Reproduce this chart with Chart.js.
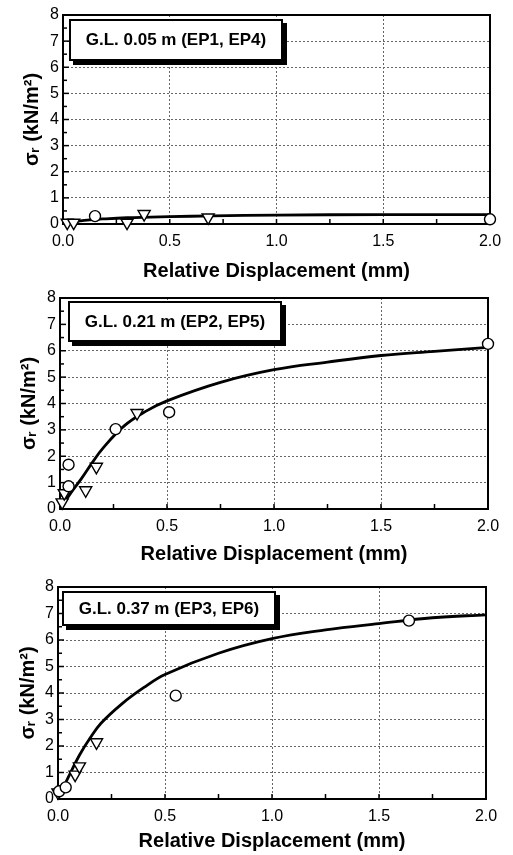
<!DOCTYPE html>
<html>
<head>
<meta charset="utf-8">
<script src="https://cdn.jsdelivr.net/npm/chart.js@4/dist/chart.umd.min.js"></script>
<style>
  body { margin: 0; background: #fff; width: 513px; height: 855px; overflow: hidden; position: relative; font-family: "Liberation Sans", Arial, sans-serif; }
  .panel { position: absolute; left: 0; width: 513px; }
  .tag { position: absolute; box-sizing: border-box; border: 2px solid #000; background: #fff; box-shadow: 4px 4px 0 #000;
         font-weight: bold; font-size: 17px; color: #000; display: flex; align-items: center; justify-content: center; }
</style>
</head>
<body>
<div class="panel" style="top:0;height:285px"><canvas id="c1"></canvas></div>
<div class="panel" style="top:283px;height:285px"><canvas id="c2"></canvas></div>
<div class="panel" style="top:572px;height:283px"><canvas id="c3"></canvas></div>
<div class="tag" style="left:69px;top:19px;width:214px;height:42px">G.L. 0.05 m (EP1, EP4)</div>
<div class="tag" style="left:68px;top:301px;width:214px;height:41px">G.L. 0.21 m (EP2, EP5)</div>
<div class="tag" style="left:62px;top:591px;width:214px;height:35px">G.L. 0.37 m (EP3, EP6)</div>
<script>
// axis ticks
const xTicks = [0, 0.5, 1.0, 1.5, 2.0];
const yTicks = [0, 1, 2, 3, 4, 5, 6, 7, 8];

// G.L. 0.05 m (EP1, EP4)
const gl05CircleX = [0.15, 2.0];
const gl05CircleY = [0.3, 0.18];
const gl05TriX = [0.02, 0.05, 0.30, 0.38, 0.68];
const gl05TriY = [0.05, 0.05, 0.05, 0.38, 0.25];
const gl05CurveX = [0, 0.05, 0.1, 0.2, 0.3, 0.5, 0.7, 1.0, 1.5, 2.0];
const gl05CurveY = [0, 0.08, 0.14, 0.2, 0.24, 0.28, 0.31, 0.34, 0.36, 0.36];

// G.L. 0.21 m (EP2, EP5)
const gl21CircleX = [0.04, 0.04, 0.26, 0.51, 2.0];
const gl21CircleY = [1.68, 0.86, 3.03, 3.67, 6.26];
const gl21TriX = [0.01, 0.02, 0.12, 0.17, 0.36];
const gl21TriY = [0.25, 0.6, 0.71, 1.6, 3.64];
const gl21CurveX = [0, 0.05, 0.1, 0.15, 0.2, 0.3, 0.4, 0.5, 0.75, 1.0, 1.25, 1.5, 1.75, 2.0];
const gl21CurveY = [0, 0.6, 1.15, 1.75, 2.3, 3.15, 3.7, 4.1, 4.8, 5.28, 5.57, 5.82, 5.98, 6.13];

// G.L. 0.37 m (EP3, EP6)
const gl37CircleX = [0.005, 0.036, 0.55, 1.64];
const gl37CircleY = [0.29, 0.44, 3.9, 6.73];
const gl37TriX = [0.0, 0.08, 0.1, 0.18];
const gl37TriY = [0.25, 0.92, 1.23, 2.14];
const gl37CurveX = [0, 0.05, 0.1, 0.15, 0.2, 0.3, 0.4, 0.5, 0.75, 1.0, 1.25, 1.5, 1.75, 2.0];
const gl37CurveY = [0, 0.85, 1.65, 2.3, 2.85, 3.6, 4.2, 4.7, 5.5, 6.05, 6.38, 6.62, 6.84, 6.95];

const pairs = (xs, ys) => xs.map((x, i) => ({ x: x, y: ys[i] }));

// frame + inward ticks
const framePlugin = {
  id: 'frame',
  beforeDatasetsDraw(chart) {
    const { ctx, chartArea: a, scales } = chart;
    ctx.save();
    ctx.strokeStyle = '#000';
    ctx.lineWidth = 1.5;
    for (let v = 0.25; v < 2; v += 0.25) {
      const px = scales.x.getPixelForValue(v);
      ctx.beginPath(); ctx.moveTo(px, a.bottom); ctx.lineTo(px, a.bottom - 5); ctx.stroke();
    }
    for (let v = 0.5; v < 8; v += 0.5) {
      const py = scales.y.getPixelForValue(v);
      ctx.beginPath(); ctx.moveTo(a.left, py); ctx.lineTo(a.left + (v % 1 ? 4 : 6), py); ctx.stroke();
    }
    ctx.lineWidth = 2;
    ctx.strokeRect(a.left, a.top, a.right - a.left, a.bottom - a.top);
    ctx.restore();
  }
};

function makeChart(id, frame, circX, circY, triX, triY, curveX, curveY) {
  return new Chart(document.getElementById(id), {
    type: 'scatter',
    data: {
      datasets: [
        { data: pairs(circX, circY), pointStyle: 'circle', pointRadius: 5.5, pointBorderWidth: 1.4,
          pointBackgroundColor: '#fff', pointBorderColor: '#000', clip: false },
        { data: pairs(triX, triY), pointStyle: 'triangle', pointRotation: 180, pointRadius: 7, pointBorderWidth: 1.4,
          pointBackgroundColor: '#fff', pointBorderColor: '#000', clip: false },
        { data: pairs(curveX, curveY), showLine: true, pointRadius: 0, borderColor: '#000', borderWidth: 2.8,
          tension: 0.4 }
      ]
    },
    options: {
      responsive: true,
      maintainAspectRatio: false,
      animation: false,
      events: [],
      layout: { padding: { top: frame.top, right: 513 - frame.right, left: 0, bottom: 0 } },
      plugins: { legend: { display: false }, tooltip: { enabled: false } },
      scales: {
        x: {
          type: 'linear', min: 0, max: 2,
          afterBuildTicks: s => { s.ticks = xTicks.map(v => ({ value: v })); },
          afterFit: s => { s.height = frame.height - frame.bottom; },
          ticks: { padding: 8, color: '#000', font: { family: 'Liberation Sans', size: 16 },
                   callback: v => v.toFixed(1) },
          grid: { color: '#666', lineWidth: 1, drawTicks: false },
          border: { display: false, dash: [2, 2] },
          title: { display: true, text: 'Relative Displacement (mm)', color: '#000', padding: { top: 0, bottom: 2 },
                   font: { family: 'Liberation Sans', size: 20, weight: 'bold' } }
        },
        y: {
          type: 'linear', min: 0, max: 8,
          afterBuildTicks: s => { s.ticks = yTicks.map(v => ({ value: v })); },
          afterFit: s => { s.width = frame.left; },
          ticks: { padding: 4, color: '#000', font: { family: 'Liberation Sans', size: 16 } },
          grid: { color: '#666', lineWidth: 1, drawTicks: false },
          border: { display: false, dash: [2, 2] },
          title: { display: true, text: 'σᵣ (kN/m²)', color: '#000', padding: { top: frame.titleOff, bottom: 0 },
                   font: { family: 'Liberation Sans', size: 20, weight: 'bold' } }
        }
      }
    },
    plugins: [framePlugin]
  });
}

makeChart('c1', { top: 15, bottom: 224, left: 63, right: 490, height: 285, titleOff: 20 },
  gl05CircleX, gl05CircleY, gl05TriX, gl05TriY, gl05CurveX, gl05CurveY);
makeChart('c2', { top: 15, bottom: 226, left: 60, right: 488, height: 285, titleOff: 17 },
  gl21CircleX, gl21CircleY, gl21TriX, gl21TriY, gl21CurveX, gl21CurveY);
makeChart('c3', { top: 15, bottom: 227, left: 58, right: 486, height: 283, titleOff: 16 },
  gl37CircleX, gl37CircleY, gl37TriX, gl37TriY, gl37CurveX, gl37CurveY);
</script>
</body>
</html>
